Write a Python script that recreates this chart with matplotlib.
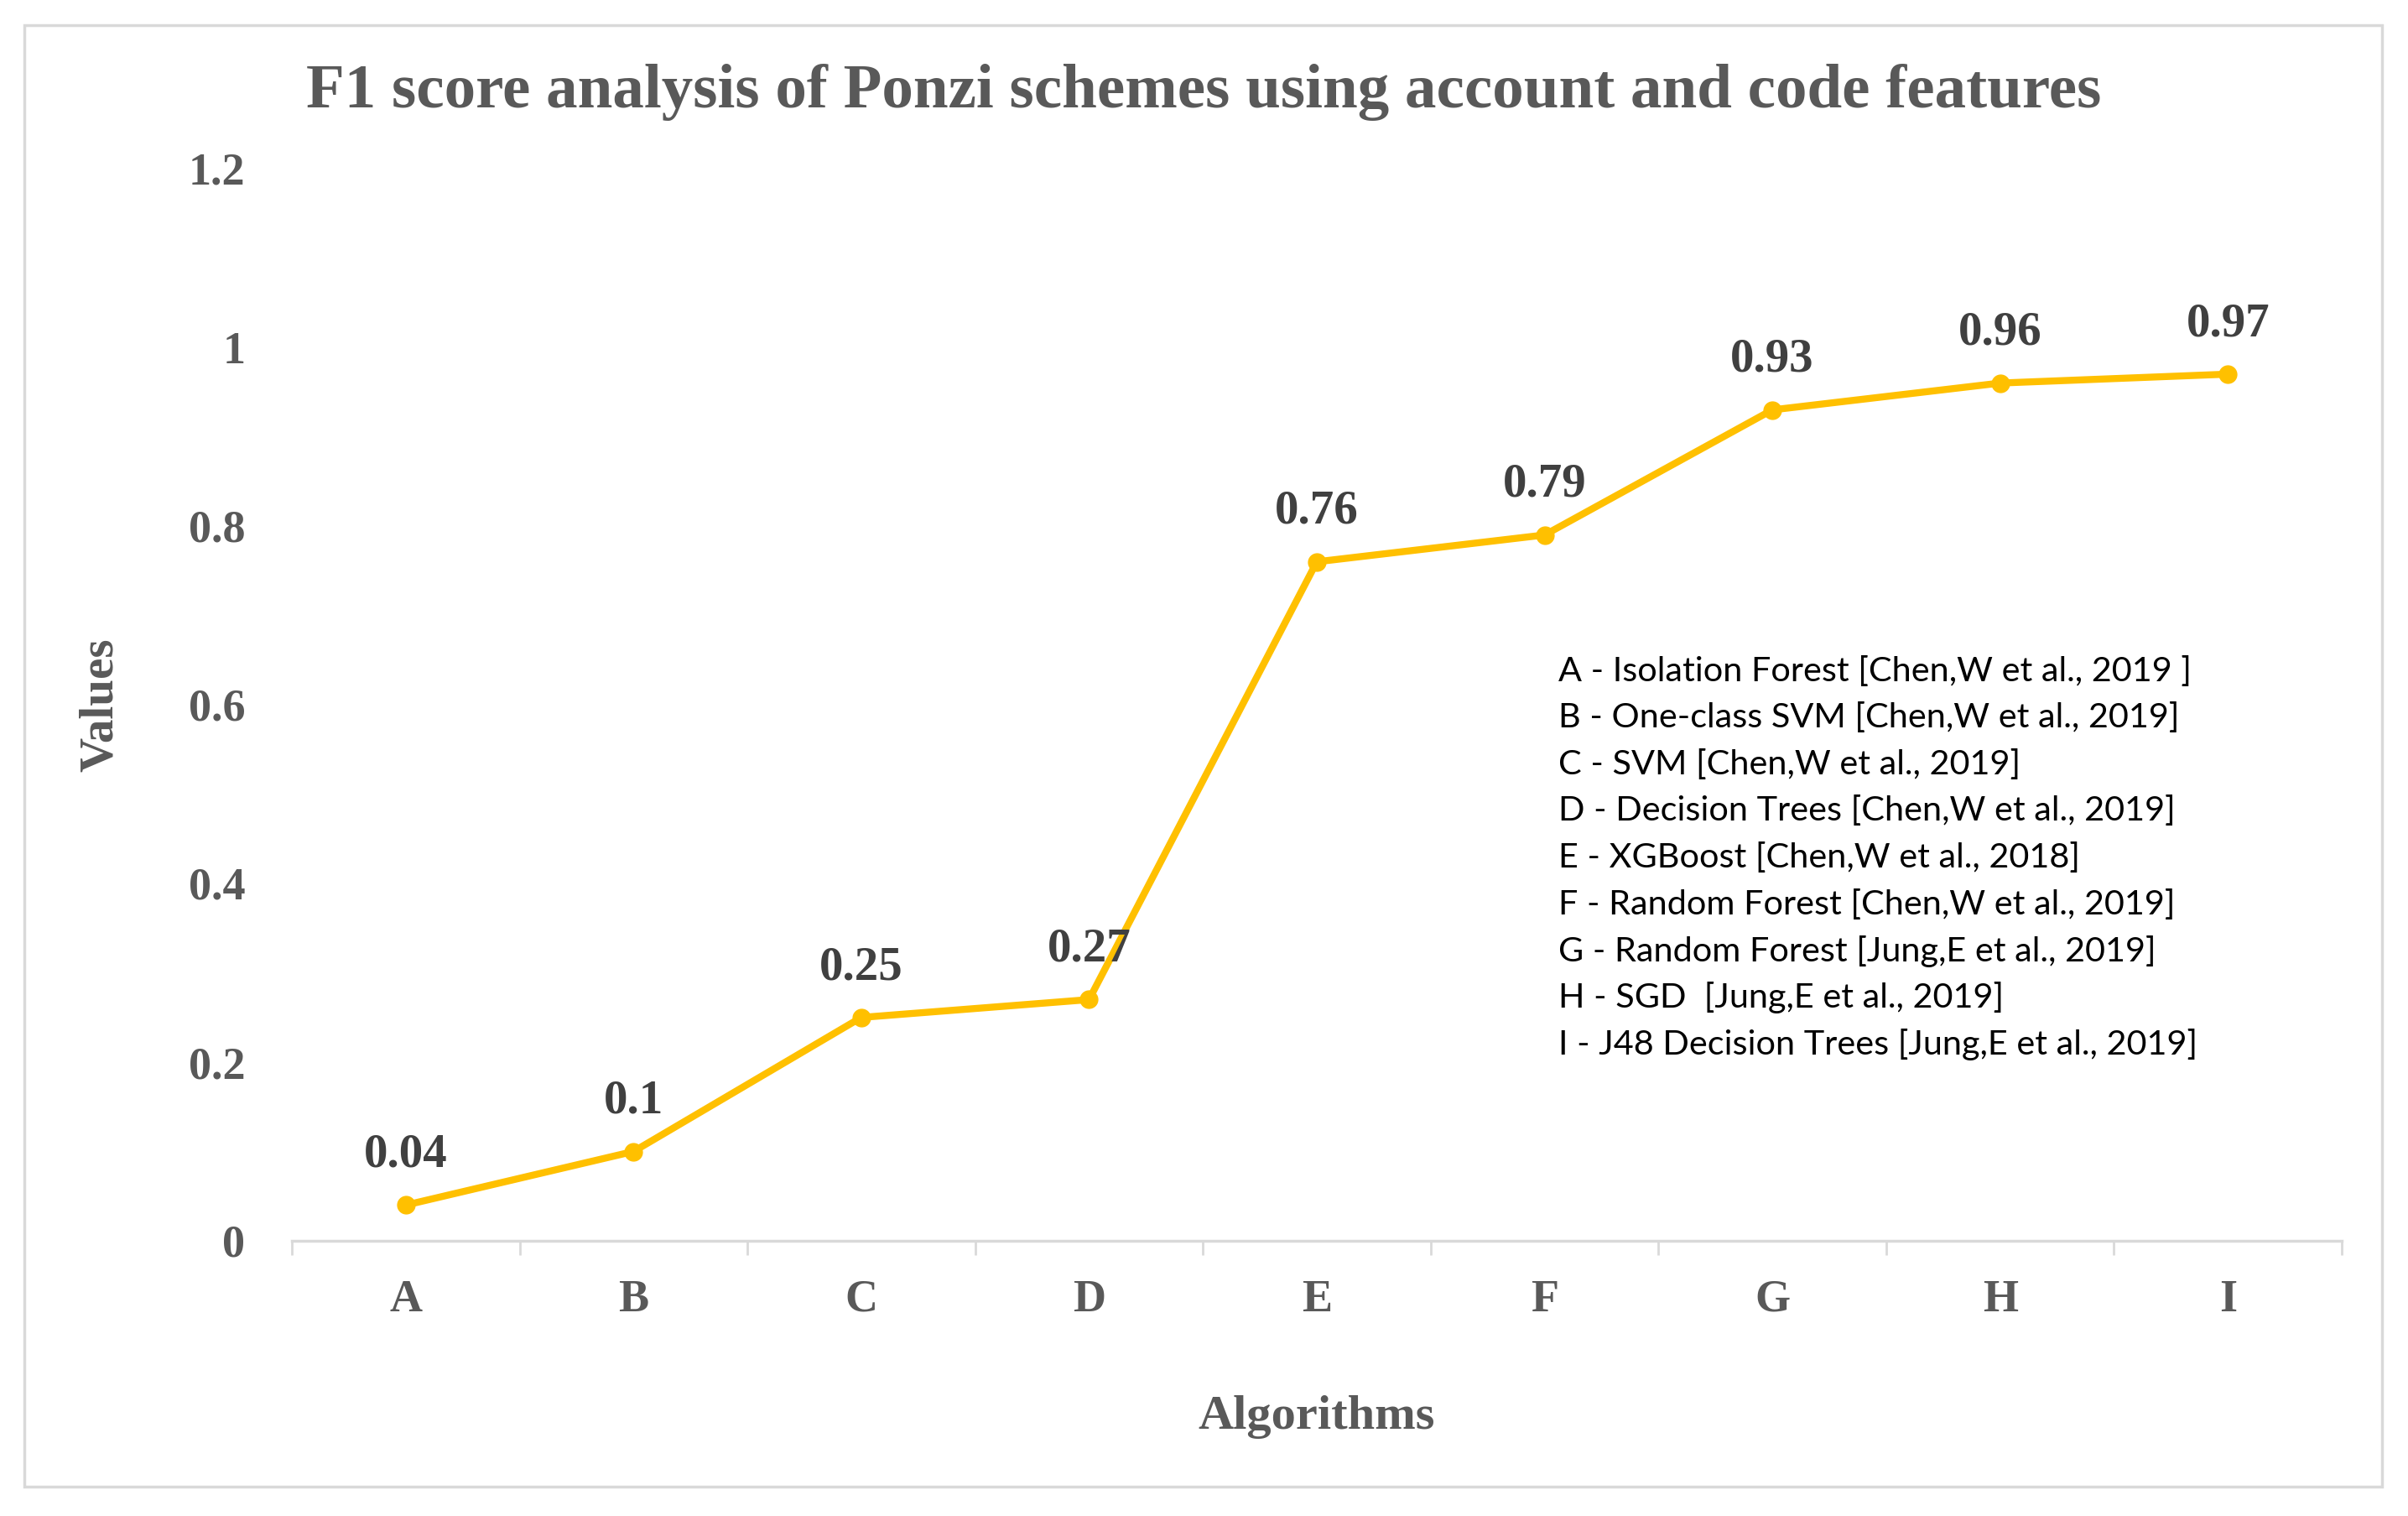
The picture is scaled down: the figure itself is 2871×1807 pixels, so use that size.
import matplotlib
matplotlib.use("Agg")
import matplotlib.pyplot as plt
from matplotlib.patches import Rectangle
from matplotlib.ticker import FixedLocator

# Data
algorithms = ["A", "B", "C", "D", "E", "F", "G", "H", "I"]
f1_scores = [0.04, 0.1, 0.25, 0.27, 0.76, 0.79, 0.93, 0.96, 0.97]
value_labels = ["0.04", "0.1", "0.25", "0.27", "0.76", "0.79", "0.93", "0.96", "0.97"]
y_ticks = [0, 0.2, 0.4, 0.6, 0.8, 1.0, 1.2]
y_tick_labels = ["0", "0.2", "0.4", "0.6", "0.8", "1", "1.2"]
legend_lines = [
    "A - Isolation Forest [Chen,W et al., 2019 ]",
    "B - One-class SVM [Chen,W et al., 2019]",
    "C - SVM [Chen,W et al., 2019]",
    "D - Decision Trees [Chen,W et al., 2019]",
    "E - XGBoost [Chen,W et al., 2018]",
    "F - Random Forest [Chen,W et al., 2019]",
    "G - Random Forest [Jung,E et al., 2019]",
    "H - SGD  [Jung,E et al., 2019]",
    "I - J48 Decision Trees [Jung,E et al., 2019]",
]

W, H = 2871, 1807
fig = plt.figure(figsize=(W / 100, H / 100), dpi=100)
ax = fig.add_axes([348 / W, 1 - 1479 / H, (2792 - 348) / W, (1479 - 201) / H])

serif = "Liberation Serif"
gray = "#595959"

x = list(range(len(algorithms)))
ax.plot(x, f1_scores, color="#FFC000", lw=6, marker="o", ms=15, zorder=3)

for xi, v, lab in zip(x, f1_scores, value_labels):
    ax.annotate(lab, (xi, v), xytext=(0, 43), textcoords="offset points",
                ha="center", va="center", fontsize=41, fontweight="bold",
                family=serif, color="#404040")

ax.set_xlim(-0.5, len(algorithms) - 0.5)
ax.set_ylim(0, 1.2)
ax.set_xticks(x)
ax.set_xticklabels(algorithms)
ax.xaxis.set_minor_locator(FixedLocator([i - 0.5 for i in range(len(algorithms) + 1)]))
ax.tick_params(axis="x", which="major", length=0, pad=33)
ax.tick_params(axis="x", which="minor", length=12, width=2, color="#D9D9D9")
ax.set_yticks(y_ticks)
ax.set_yticklabels(y_tick_labels)
ax.tick_params(axis="y", length=0, pad=40)
for lab in ax.get_xticklabels() + ax.get_yticklabels():
    lab.set_family(serif)
    lab.set_fontweight("bold")
    lab.set_fontsize(39)
    lab.set_color(gray)

for s in ["top", "right", "left"]:
    ax.spines[s].set_visible(False)
ax.spines["bottom"].set_color("#D9D9D9")
ax.spines["bottom"].set_linewidth(2.5)

ax.set_ylabel("Values", family=serif, fontweight="bold", fontsize=41, color=gray)
ax.yaxis.set_label_coords(-0.0827, 0.5)
ax.set_xlabel("Algorithms", family=serif, fontweight="bold", fontsize=42, color=gray)
ax.xaxis.set_label_coords(0.5, -0.144)

fig.text(0.5, 1 - 110 / H, "F1 score analysis of Ponzi schemes using account and code features",
         ha="center", va="center", family=serif, fontweight="bold", fontsize=54, color=gray)

# legend text block
y0 = 800
for i, line in enumerate(legend_lines):
    fig.text(1858 / W, 1 - (y0 + i * 55.6) / H, line, ha="left", va="center",
             family="Lato", fontsize=29.8, color="black")

# chart border
fig.patches.append(Rectangle((29 / W, 1 - 1772 / H), (2840 - 29) / W, (1772 - 30) / H,
                             transform=fig.transFigure, fill=False,
                             edgecolor="#D9D9D9", lw=2.5))

fig.savefig("out.png", dpi=100, facecolor="white")
